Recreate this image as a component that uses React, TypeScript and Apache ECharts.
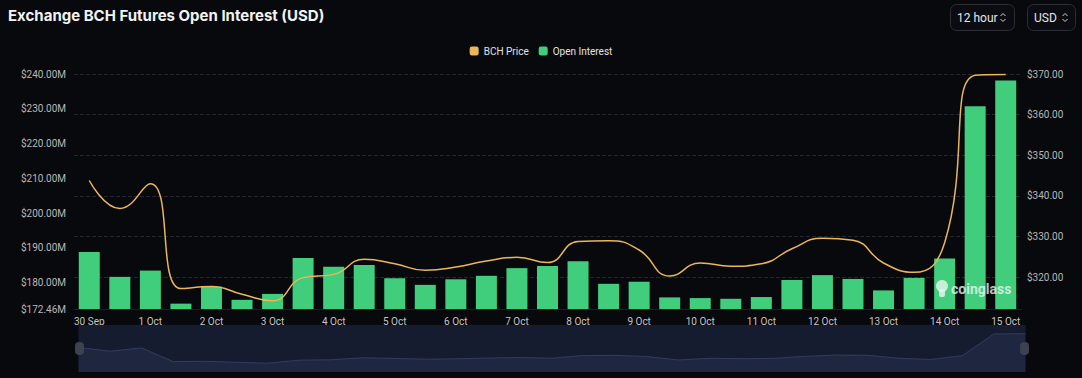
import React, { useEffect, useRef } from "react";
import * as echarts from "echarts";

const categories = [
  "30 Sep 00:00", "30 Sep 12:00", "1 Oct 00:00", "1 Oct 12:00", "2 Oct 00:00", "2 Oct 12:00",
  "3 Oct 00:00", "3 Oct 12:00", "4 Oct 00:00", "4 Oct 12:00", "5 Oct 00:00", "5 Oct 12:00",
  "6 Oct 00:00", "6 Oct 12:00", "7 Oct 00:00", "7 Oct 12:00", "8 Oct 00:00", "8 Oct 12:00",
  "9 Oct 00:00", "9 Oct 12:00", "10 Oct 00:00", "10 Oct 12:00", "11 Oct 00:00", "11 Oct 12:00",
  "12 Oct 00:00", "12 Oct 12:00", "13 Oct 00:00", "13 Oct 12:00", "14 Oct 00:00", "14 Oct 12:00",
  "15 Oct 00:00",
];

// Open interest in millions of USD
const openInterest = [
  188.84, 181.7, 183.5, 174.0, 178.9, 175.1, 176.8, 187.1, 184.6, 185.1, 181.3, 179.4,
  181.0, 182.0, 184.2, 184.8, 186.2, 179.7, 180.3, 175.8, 175.6, 175.4, 175.9, 180.8,
  182.2, 181.1, 177.8, 181.4, 187.0, 230.7, 238.1,
];

// BCH price in USD
const bchPrice = [
  343.8, 336.9, 343.0, 317.2, 317.7, 315.8, 314.2, 319.9, 320.7, 324.4, 323.3, 321.7,
  322.5, 324.0, 324.9, 323.6, 328.8, 329.0, 326.7, 320.3, 323.5, 322.7, 323.3, 327.0,
  329.6, 329.1, 323.5, 321.2, 328.5, 369.7, 369.9,
];

const leftAxisMin = 172.46;
const leftAxisMax = 240;
const rightAxisMin = 312.18;
const rightAxisMax = 370;

const FONT = "Roboto, 'Noto Sans', sans-serif";

function chevrons(cx: number, cy: number) {
  return [
    {
      type: "polyline",
      shape: { points: [[cx - 2.5, cy - 1.5], [cx, cy - 4], [cx + 2.5, cy - 1.5]] },
      style: { stroke: "#cfcfcf", lineWidth: 1, fill: null },
    },
    {
      type: "polyline",
      shape: { points: [[cx - 2.5, cy + 1.5], [cx, cy + 4], [cx + 2.5, cy + 1.5]] },
      style: { stroke: "#cfcfcf", lineWidth: 1, fill: null },
    },
  ];
}

export default function App() {
  const ref = useRef<HTMLDivElement>(null);

  useEffect(() => {
    if (!ref.current) return;
    const chart = echarts.init(ref.current, null, { renderer: "svg" });
    chart.setOption({
      animation: false,
      backgroundColor: "#08090d",
      textStyle: { fontFamily: FONT },
      legend: {
        top: 41,
        left: "center",
        itemWidth: 9,
        itemHeight: 9,
        itemGap: 10,
        icon: "roundRect",
        textStyle: { color: "#e2e2e2", fontSize: 10, fontFamily: FONT },
        data: ["BCH Price", "Open Interest"],
      },
      grid: { left: 74, right: 61, top: 74, bottom: 69 },
      xAxis: {
        type: "category",
        data: categories,
        boundaryGap: true,
        axisLine: { show: true, lineStyle: { color: "#1c1e24" } },
        axisTick: { show: false },
        axisLabel: {
          interval: 1,
          color: "#c4c4c4",
          fontSize: 10,
          margin: 7,
          fontFamily: FONT,
          formatter: (v: string) => v.split(" ").slice(0, 2).join(" "),
        },
      },
      yAxis: [
        {
          type: "value",
          position: "left",
          min: leftAxisMin,
          max: leftAxisMax,
          splitLine: { show: false },
          axisLine: { show: false },
          axisTick: { show: false },
          axisLabel: {
            color: "#b8b8b8",
            fontSize: 10,
            margin: 8,
            fontFamily: FONT,
            formatter: (v: number) => "$" + v.toFixed(2) + "M",
          },
        },
        {
          type: "value",
          position: "right",
          min: rightAxisMin,
          max: rightAxisMax,
          splitLine: { show: true, lineStyle: { color: "#24272f", type: "dashed", width: 1 } },
          axisLine: { show: false },
          axisTick: { show: false },
          axisLabel: {
            color: "#b8b8b8",
            fontSize: 10,
            margin: 6,
            showMinLabel: false,
            fontFamily: FONT,
            formatter: (v: number) => "$" + v.toFixed(2),
          },
        },
      ],
      dataZoom: [
        {
          type: "slider",
          xAxisIndex: 0,
          left: 76,
          right: 59,
          top: 325,
          height: 47,
          start: 0,
          end: 100,
          showDetail: false,
          brushSelect: false,
          borderColor: "transparent",
          backgroundColor: "#0f1424",
          fillerColor: "rgba(26,33,56,0.6)",
          dataBackground: {
            lineStyle: { color: "#55648f", width: 1, opacity: 1 },
            areaStyle: { color: "#252e4b", opacity: 1 },
          },
          selectedDataBackground: {
            lineStyle: { color: "#55648f", width: 1, opacity: 1 },
            areaStyle: { color: "#252e4b", opacity: 1 },
          },
          handleIcon: "path://M3,0 L5,0 Q8,0 8,3 L8,9 Q8,12 5,12 L3,12 Q0,12 0,9 L0,3 Q0,0 3,0 Z",
          handleSize: 12,
          handleStyle: { color: "#3d4250", borderColor: "#3d4250" },
          moveHandleSize: 0,
          textStyle: { color: "transparent" },
        },
      ],
      series: [
        {
          name: "BCH Price",
          type: "line",
          yAxisIndex: 1,
          data: bchPrice,
          smooth: true,
          showSymbol: false,
          symbol: "none",
          lineStyle: { color: "#e9b75a", width: 1.5 },
          itemStyle: { color: "#e9b75a" },
          z: 3,
        },
        {
          name: "Open Interest",
          type: "bar",
          yAxisIndex: 0,
          data: openInterest,
          barWidth: 21,
          itemStyle: { color: "#40cd7c" },
          z: 2,
        },
      ],
      graphic: [
        {
          type: "text",
          left: 8,
          top: 8,
          style: {
            text: "Exchange BCH Futures Open Interest (USD)",
            fill: "#f2f2f2",
            font: "bold 15px Inter, Roboto, sans-serif",
          },
        },
        {
          type: "group",
          children: [
            {
              type: "rect",
              shape: { x: 950.5, y: 4.5, width: 64, height: 26, r: 6 },
              style: { fill: "#0b0c11", stroke: "#2c2e34", lineWidth: 1 },
            },
            {
              type: "text",
              x: 957,
              y: 17.5,
              style: { text: "12 hour", fill: "#e6e6e6", font: "12px Roboto, sans-serif", verticalAlign: "middle" },
            },
            ...chevrons(1003, 17.5),
            {
              type: "rect",
              shape: { x: 1027.5, y: 4.5, width: 48, height: 26, r: 6 },
              style: { fill: "#0b0c11", stroke: "#2c2e34", lineWidth: 1 },
            },
            {
              type: "text",
              x: 1034,
              y: 17.5,
              style: { text: "USD", fill: "#e6e6e6", font: "12px Roboto, sans-serif", verticalAlign: "middle" },
            },
            ...chevrons(1065, 17.5),
          ],
        },
        {
          type: "group",
          z: 100,
          children: [
            {
              type: "circle",
              z: 100,
              shape: { cx: 942, cy: 286, r: 6 },
              style: { fill: "rgba(235,245,240,0.8)" },
            },
            {
              type: "rect",
              z: 100,
              shape: { x: 939, y: 289, width: 6, height: 8, r: 2 },
              style: { fill: "rgba(235,245,240,0.8)" },
            },
            {
              type: "text",
              z: 100,
              x: 951,
              y: 289,
              style: {
                text: "coinglass",
                fill: "rgba(235,245,240,0.8)",
                font: "bold 14px Roboto, sans-serif",
                verticalAlign: "middle",
              },
            },
          ],
        },
      ],
    });
    return () => chart.dispose();
  }, []);

  return (
    <div
      ref={ref}
      style={{ position: "fixed", left: 0, top: 0, width: 1082, height: 378 }}
    />
  );
}
